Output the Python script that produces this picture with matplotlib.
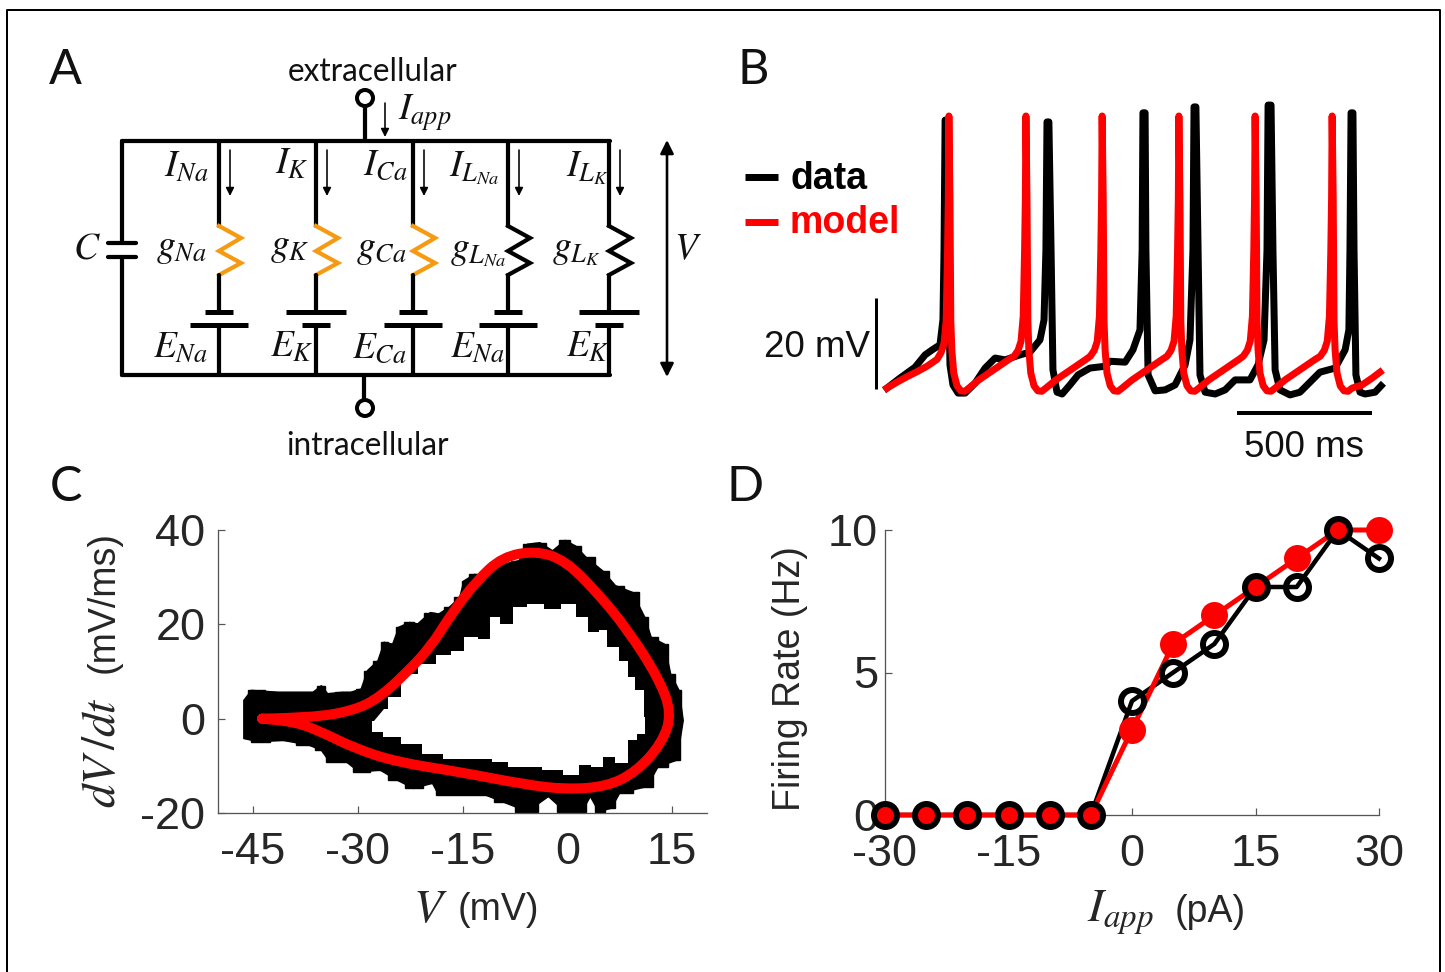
import matplotlib
matplotlib.use("Agg")
import matplotlib.pyplot as plt
from matplotlib.cbook import pts_to_midstep
from matplotlib.patches import Circle, PathPatch
from matplotlib.path import Path

W, H = 1445, 972
PX = 0.72  # one pixel in points at dpi 100
INK = "#262626"
ORANGE = "#f59a12"
RED = "#ff0000"

plt.rcParams["font.family"] = ["Liberation Sans", "DejaVu Sans"]
plt.rcParams["mathtext.fontset"] = "stix"
plt.rcParams["axes.unicode_minus"] = False

# panel B, voltage traces (ms, mV)
data_t = [0, 48, 104, 141, 167, 196, 207, 211, 215, 222, 226, 233, 244, 263, 289, 326, 363, 400, 437, 492, 529, 566,
          581, 588, 592, 599, 607, 614, 629, 648, 677, 707, 751, 807, 825, 881, 910, 936, 944, 947, 955, 958, 966,
          992, 1029, 1066, 1103, 1121, 1132, 1136, 1143, 1151, 1158, 1177, 1214, 1251, 1288, 1343, 1373, 1395, 1406,
          1410, 1421, 1428, 1436, 1454, 1491, 1528, 1565, 1602, 1658, 1695, 1709, 1713, 1717, 1724, 1728, 1735, 1750,
          1769, 1806, 1828]
data_v = [-44.8, -42.6, -40.2, -37.5, -36.4, -35.3, -29.8, -14.5, 14.1, 14.1, -14.5, -39.7, -44.1, -45.9, -45.9,
          -43.7, -40.4, -38.2, -38.6, -37.5, -36.9, -34.2, -29.8, -14.5, 13.7, 13.7, -14.5, -40.8, -45.7, -46.1,
          -44.1, -41.9, -40.4, -40.0, -38.9, -39.1, -36.4, -32.0, -14.5, 15.7, 15.7, -14.5, -41.9, -45.4, -45.2,
          -44.1, -39.7, -34.2, -14.5, 17.0, 17.0, -14.5, -41.9, -45.7, -46.1, -45.2, -43.0, -43.0, -39.7, -34.2,
          -14.5, 17.4, 17.4, -14.5, -40.8, -45.2, -46.3, -45.7, -43.5, -41.3, -40.4, -36.4, -32.0, -14.5, 15.7,
          15.7, -14.5, -41.9, -45.7, -46.1, -45.7, -44.3]
model_t = [0, 37, 74, 111, 148, 185, 200, 211, 219, 224, 227, 229,
           233, 236, 240, 247, 259, 273, 288, 303, 340, 377, 414, 451, 470, 485, 496, 504, 509, 512, 514,
           518, 521, 525, 532, 544, 558, 573, 588, 625, 662, 699, 736, 752, 767, 778, 786, 791, 794, 796,
           800, 803, 807, 814, 826, 840, 855, 870, 907, 944, 981, 1018, 1036, 1051, 1062, 1070, 1075, 1078, 1080,
           1084, 1087, 1091, 1098, 1110, 1124, 1139, 1154, 1191, 1228, 1265, 1302, 1318, 1333, 1344, 1352, 1357, 1360, 1362,
           1366, 1369, 1373, 1380, 1392, 1406, 1421, 1436, 1473, 1510, 1547, 1584, 1603, 1618, 1629, 1637, 1642, 1645, 1647,
           1651, 1654, 1658, 1665, 1677, 1691, 1706, 1721, 1758, 1795, 1824]
model_v = [-44.8, -43.5, -42.3, -41.2, -40.0, -38.5, -37.0, -35.0, -30.0, -15.0, -3.0, 15.0,
           -3.5, -30.0, -36.5, -41.5, -44.3, -45.4, -45.5, -44.8, -43.0, -41.5, -40.0, -38.5, -37.8, -36.5, -34.5, -29.0, -15.0, -3.0, 15.0,
           -3.5, -30.0, -36.5, -41.5, -44.3, -45.4, -45.5, -44.8, -43.0, -41.5, -40.0, -38.5, -37.8, -36.5, -34.5, -29.0, -15.0, -3.0, 15.0,
           -3.5, -30.0, -36.5, -41.5, -44.3, -45.4, -45.5, -44.8, -43.0, -41.5, -40.0, -38.5, -37.8, -36.5, -34.5, -29.0, -15.0, -3.0, 15.0,
           -3.5, -30.0, -36.5, -41.5, -44.3, -45.4, -45.5, -44.8, -43.0, -41.5, -40.0, -38.5, -37.8, -36.5, -34.5, -29.0, -15.0, -3.0, 15.0,
           -3.5, -30.0, -36.5, -41.5, -44.3, -45.4, -45.5, -44.8, -43.0, -41.5, -40.0, -38.5, -37.8, -36.5, -34.5, -29.0, -15.0, -3.0, 15.0,
           -3.5, -30.0, -36.5, -41.5, -44.3, -45.4, -45.5, -44.8, -44.1, -42.6, -41.3]

# panel C, phase plane (mV, mV/ms): edge of the recorded band and its inner hole, then the model loop
band_v = [-46.3, -45.2, -41.3, -36.4, -35.2, -34.3, -32.2, -31, -29.5, -28.6, -27.1, -26.2, -25, -24.1, -22.6, -21.4,
          -19.6, -18.4, -16.9, -15.4, -14.8, -13.3, -11.7, -9.3, -6.9, -5.7, -3.9, -2.1, -0.3, 1.2, 2.7, 5.1, 6.9, 9.3,
          11.1, 12, 13.9, 14.8, 16, 16.6, 15.7, 13, 11.4, 7.5, 6.3, 4.5, 3.3, 2.1, -0.3, -2.7, -5.7, -9.3, -11.7, -14.8,
          -18.4, -19.3, -22, -24.4, -26.8, -29.8, -31.6, -34, -35.2, -37, -40.7, -44.3, -46.3]
band_dv = [3.9, 6, 5.6, 5.6, 7, 5.3, 5.6, 5.6, 6.3, 10.2, 12.3, 16.2, 15.8, 19.4, 20.4, 20.1, 22.5, 22.2, 23.6, 25.7,
           29.2, 30.6, 30.3, 32.7, 33.5, 37, 37.3, 35.6, 37.8, 36.6, 34.2, 31.3, 28.2, 26.8, 21.5, 17.3, 15.8, 9.5, 6,
           -0.4, -8.8, -10.2, -14.4, -15.8, -19, -19.7, -16.5, -19.7, -19.7, -16.5, -19.7, -17.6, -16.2, -16.2, -16.2,
           -13.7, -14.8, -13, -10.9, -11.3, -9.2, -9.2, -6.7, -5.6, -4.6, -4.9, -4.2]
hole_v = [-26.2, -25, -22.6, -20.2, -17.5, -15.7, -13.9, -11.7, -10.5, -8.7, -6.9, -4.5, -2.1, 0.3, 2.1, 3.9, 5.1, 6.3,
          8.4, 9, 10.5, 11.4, 10.8, 9.3, 8.1, 5.7, 4.5, 2.4, 0.9, -2.1, -5.1, -7.8, -9.3, -12.3, -16.6, -19, -22.6, -25,
          -27.7, -28.3, -27.7]
hole_dv = [2.1, 4.6, 9.5, 11.6, 13.4, 14.4, 17.3, 16.9, 21.5, 20.1, 23.6, 24.3, 23.2, 24.3, 21.5, 18.3, 18.7, 15.1,
           12.3, 8.8, 6, 0.4, -3.2, -4.6, -9.5, -8.1, -10.2, -9.9, -12, -10.9, -10.2, -10.2, -9.2, -8.5, -8.5, -7.4,
           -5.3, -3.9, -2.8, -3.9, -0.4]
loop_v = [-43.7, -36.4, -30.4, -26.8, -23.2, -19.6, -16.6, -13, -9.3, -4.5, -0.3, 4.5, 8.7, 13, 15, 13.5, 9.9, 5.7,
          -0.3, -6.3, -15.4, -24.4, -30.4, -35.2, -38.9, -43.7]
loop_dv = [0, 0.2, 1.8, 4.6, 9.5, 15.1, 22.2, 29.2, 34.3, 35.6, 33.6, 26.4, 18.7, 8.8, 1.1, -5.3, -11.2, -14.4, -15,
           -13.9, -11.3, -9.2, -6.3, -2.8, -0.7, 0]

# panel D, firing rate
iapp = [-30, -25, -20, -15, -10, -5, 0, 5, 10, 15, 20, 25, 30]
rate_data = [0, 0, 0, 0, 0, 0, 4, 5, 6, 8, 8, 10, 9]
rate_model = [0, 0, 0, 0, 0, 0, 3, 6, 7, 8, 9, 10, 10]

# panel A, circuit: branch x, plate half widths (top, bottom), label strings
branch_x = [219, 316, 413, 508, 609]
top_plate = [14, 30, 14, 14, 30]
bottom_plate = [29, 14, 29, 29, 14]
branch_color = [ORANGE, ORANGE, ORANGE, "black", "black"]
i_labels = [("$I_{Na}$", 186, 166), ("$I_{K}$", 292, 164), ("$I_{Ca}$", 385, 165), ("$I_{L_{Na}}$", 474, 168), ("$I_{L_{K}}$", 587, 168)]
g_labels = [("$g_{Na}$", 181, 248), ("$g_{K}$", 290, 247), ("$g_{Ca}$", 381, 249), ("$g_{L_{Na}}$", 478, 251), ("$g_{L_{K}}$", 576, 250)]
e_labels = [("$E_{Na}$", 180, 347), ("$E_{K}$", 292, 347), ("$E_{Ca}$", 379, 348), ("$E_{Na}$", 477, 347), ("$E_{K}$", 588, 347)]


def rect(left, top, right, bottom):
    return [left / W, 1 - bottom / H, (right - left) / W, (bottom - top) / H]


def matlab_axes(ax, ypad):
    for side in ["top", "right"]:
        ax.spines[side].set_visible(False)
    for side in ["left", "bottom"]:
        ax.spines[side].set_linewidth(1.3 * PX)
        ax.spines[side].set_color("#555555")
    ax.tick_params(direction="in", length=7 * PX, width=1.2 * PX, color="#555555", labelcolor=INK, labelsize=32.5)
    ax.tick_params(axis="x", pad=14)
    ax.tick_params(axis="y", pad=ypad)
    ax.patch.set_alpha(0)


def smooth_loop(xs, ys):
    # read points act as control points of quadratic segments
    verts = [(xs[0], ys[0])]
    codes = [Path.MOVETO]
    for i in range(1, len(xs) - 1):
        verts += [(xs[i], ys[i]), ((xs[i] + xs[i + 1]) / 2, (ys[i] + ys[i + 1]) / 2)]
        codes += [Path.CURVE3, Path.CURVE3]
    verts.append((xs[-1], ys[-1]))
    codes.append(Path.LINETO)
    return Path(verts, codes)


fig = plt.figure(figsize=(W / 100, H / 100), dpi=100)

# overlay in picture coordinates: border, panel letters, circuit, free labels
sch = fig.add_axes([0, 0, 1, 1])
sch.set_xlim(0, W)
sch.set_ylim(H, 0)
sch.axis("off")
sch.plot([7, 7, 1440, 1440], [972, 10.5, 10.5, 972], color="black", lw=2 * PX)

for letter, x, y in [("A", 65, 70), ("B", 753, 70), ("C", 66, 487), ("D", 745, 487)]:
    sch.text(x, y, letter, fontsize=35, family="Lato", ha="center", va="center", color="#111111")

wire = dict(color="black", lw=4.2 * PX, solid_capstyle="round", solid_joinstyle="miter")
sch.plot([122, 610], [141, 141], **wire)
sch.plot([122, 610], [375, 375], **wire)
sch.plot([122, 122], [141, 243], **wire)
sch.plot([122, 122], [257, 375], **wire)
sch.plot([108, 136], [243, 243], **wire)
sch.plot([108, 136], [257, 257], **wire)
sch.plot([365, 365], [106, 141], **wire)
sch.plot([364, 364], [375, 400], **wire)
for cy in [98, 408]:
    sch.add_patch(Circle((365, cy), 8, fc="white", ec="black", lw=4 * PX, zorder=3))

for x, up, low, col in zip(branch_x, top_plate, bottom_plate, branch_color):
    sch.plot([x, x], [141, 226], **wire)
    sch.plot([x, x + 22, x, x + 22, x], [226, 238, 251, 263, 275], color=col, lw=4.2 * PX, solid_joinstyle="miter")
    sch.plot([x, x], [275, 312], **wire)
    sch.plot([x, x], [325, 375], **wire)
    sch.plot([x - up, x + up], [312, 312], color="black", lw=5 * PX, solid_capstyle="butt")
    sch.plot([x - low, x + low], [325, 325], color="black", lw=5 * PX, solid_capstyle="butt")
    sch.annotate("", xy=(x + 11, 196), xytext=(x + 11, 150), arrowprops=dict(arrowstyle="-|>", color="black", lw=1.6 * PX, mutation_scale=12, shrinkA=0, shrinkB=0))

sch.annotate("", xy=(385, 137), xytext=(385, 103), arrowprops=dict(arrowstyle="-|>", color="black", lw=1.6 * PX, mutation_scale=12, shrinkA=0, shrinkB=0))
sch.annotate("", xy=(667, 377), xytext=(667, 140), arrowprops=dict(arrowstyle="<|-|>", color="black", lw=2.6 * PX, mutation_scale=20, shrinkA=0, shrinkB=0))

for label, x, y in i_labels + g_labels + e_labels + [("$C$", 87, 248), ("$V$", 688, 249), ("$I_{app}$", 425, 113)]:
    sch.text(x, y, label, fontsize=27, ha="center", va="center", color="#111111")
sch.text(373, 72, "extracellular", fontsize=22.7, family="Lato", ha="center", va="center", color="#111111")
sch.text(368, 446, "intracellular", fontsize=22.7, family="Lato", ha="center", va="center", color="#111111")

# B: 3.7 ms and 0.22 mV per pixel, no visible axes
axb = fig.add_axes(rect(867, 90, 1397, 430))
axb.set_xlim((867 - 887) * 3.7, (1397 - 887) * 3.7)
axb.set_ylim(-45 - (430 - 389) / 4.55, -45 + (389 - 90) / 4.55)
axb.axis("off")
axb.plot(data_t, data_v, color="black", lw=7 * PX, solid_joinstyle="round")
axb.plot(model_t, model_v, color=RED, lw=7 * PX, solid_joinstyle="round")
axb.plot([1295, 1795], [-50.3, -50.3], color="black", lw=4 * PX, solid_capstyle="butt")
axb.plot([-41, -41], [-45, -25], color="black", lw=3 * PX, solid_capstyle="butt")
sch.text(870, 347, "20 mV", fontsize=26.5, ha="right", va="center", color="#111111")
sch.text(1304, 447, "500 ms", fontsize=26.5, ha="center", va="center", color="#111111")
sch.plot([745, 778], [177, 177], color="black", lw=7 * PX, solid_capstyle="butt")
sch.plot([745, 778], [222, 222], color=RED, lw=7 * PX, solid_capstyle="butt")
sch.text(790, 179, "data", fontsize=27, fontweight="bold", va="center", color="black")
sch.text(790, 223, "model", fontsize=27, fontweight="bold", va="center", color=RED)

# C: blocky edges like the sampled recording
axc = fig.add_axes(rect(218, 530, 707, 813))
axc.set_xlim(-50, 20)
axc.set_ylim(-20, 40)
matlab_axes(axc, 9)
axc.fill(band_v, band_dv, color="black", lw=1, zorder=2)
step_v, step_dv = pts_to_midstep(band_v, band_dv)
axc.fill(step_v, step_dv, color="black", lw=1, zorder=2)
step_v, step_dv = pts_to_midstep(hole_v, hole_dv)
axc.fill(step_v, step_dv, color="white", lw=0, zorder=2.1)
axc.add_patch(PathPatch(smooth_loop(loop_v, loop_dv), fc="none", ec=RED, lw=10 * PX, capstyle="round", joinstyle="round", zorder=3))
axc.set_xticks([-45, -30, -15, 0, 15])
axc.set_yticks([-20, 0, 20, 40])
sch.text(430, 910, r"$V$", fontsize=34, ha="center", va="center", color=INK)
sch.text(498, 910, "(mV)", fontsize=27, ha="center", va="center", color=INK)
sch.text(103, 753, r"$dV\,/dt$", fontsize=34, rotation=90, ha="center", va="center", color=INK)
sch.text(104, 602, "(mV/ms)", fontsize=27, rotation=90, ha="center", va="center", color=INK)

# D
axd = fig.add_axes(rect(885, 530, 1379, 815))
axd.set_xlim(-30, 30)
axd.set_ylim(0, 10)
matlab_axes(axd, 5)
axd.plot(iapp, rate_data, color="black", lw=4.5 * PX, zorder=3, clip_on=False)
axd.plot(iapp, rate_model, color=RED, lw=5 * PX, marker="o", ms=27 * PX, mew=0, zorder=4, clip_on=False)
axd.plot(iapp, rate_data, ls="none", marker="o", ms=23 * PX, mfc="none", mec="black", mew=6 * PX, zorder=5, clip_on=False)
axd.set_xticks([-30, -15, 0, 15, 30])
axd.set_yticks([0, 5, 10])
sch.text(1120, 913, r"$I_{app}$", fontsize=34, ha="center", va="center", color=INK)
sch.text(1210, 912, "(pA)", fontsize=27, ha="center", va="center", color=INK)
sch.text(790, 679, "Firing Rate (Hz)", fontsize=27, rotation=90, ha="center", va="center", color=INK)

fig.savefig("out.png", dpi=100)
